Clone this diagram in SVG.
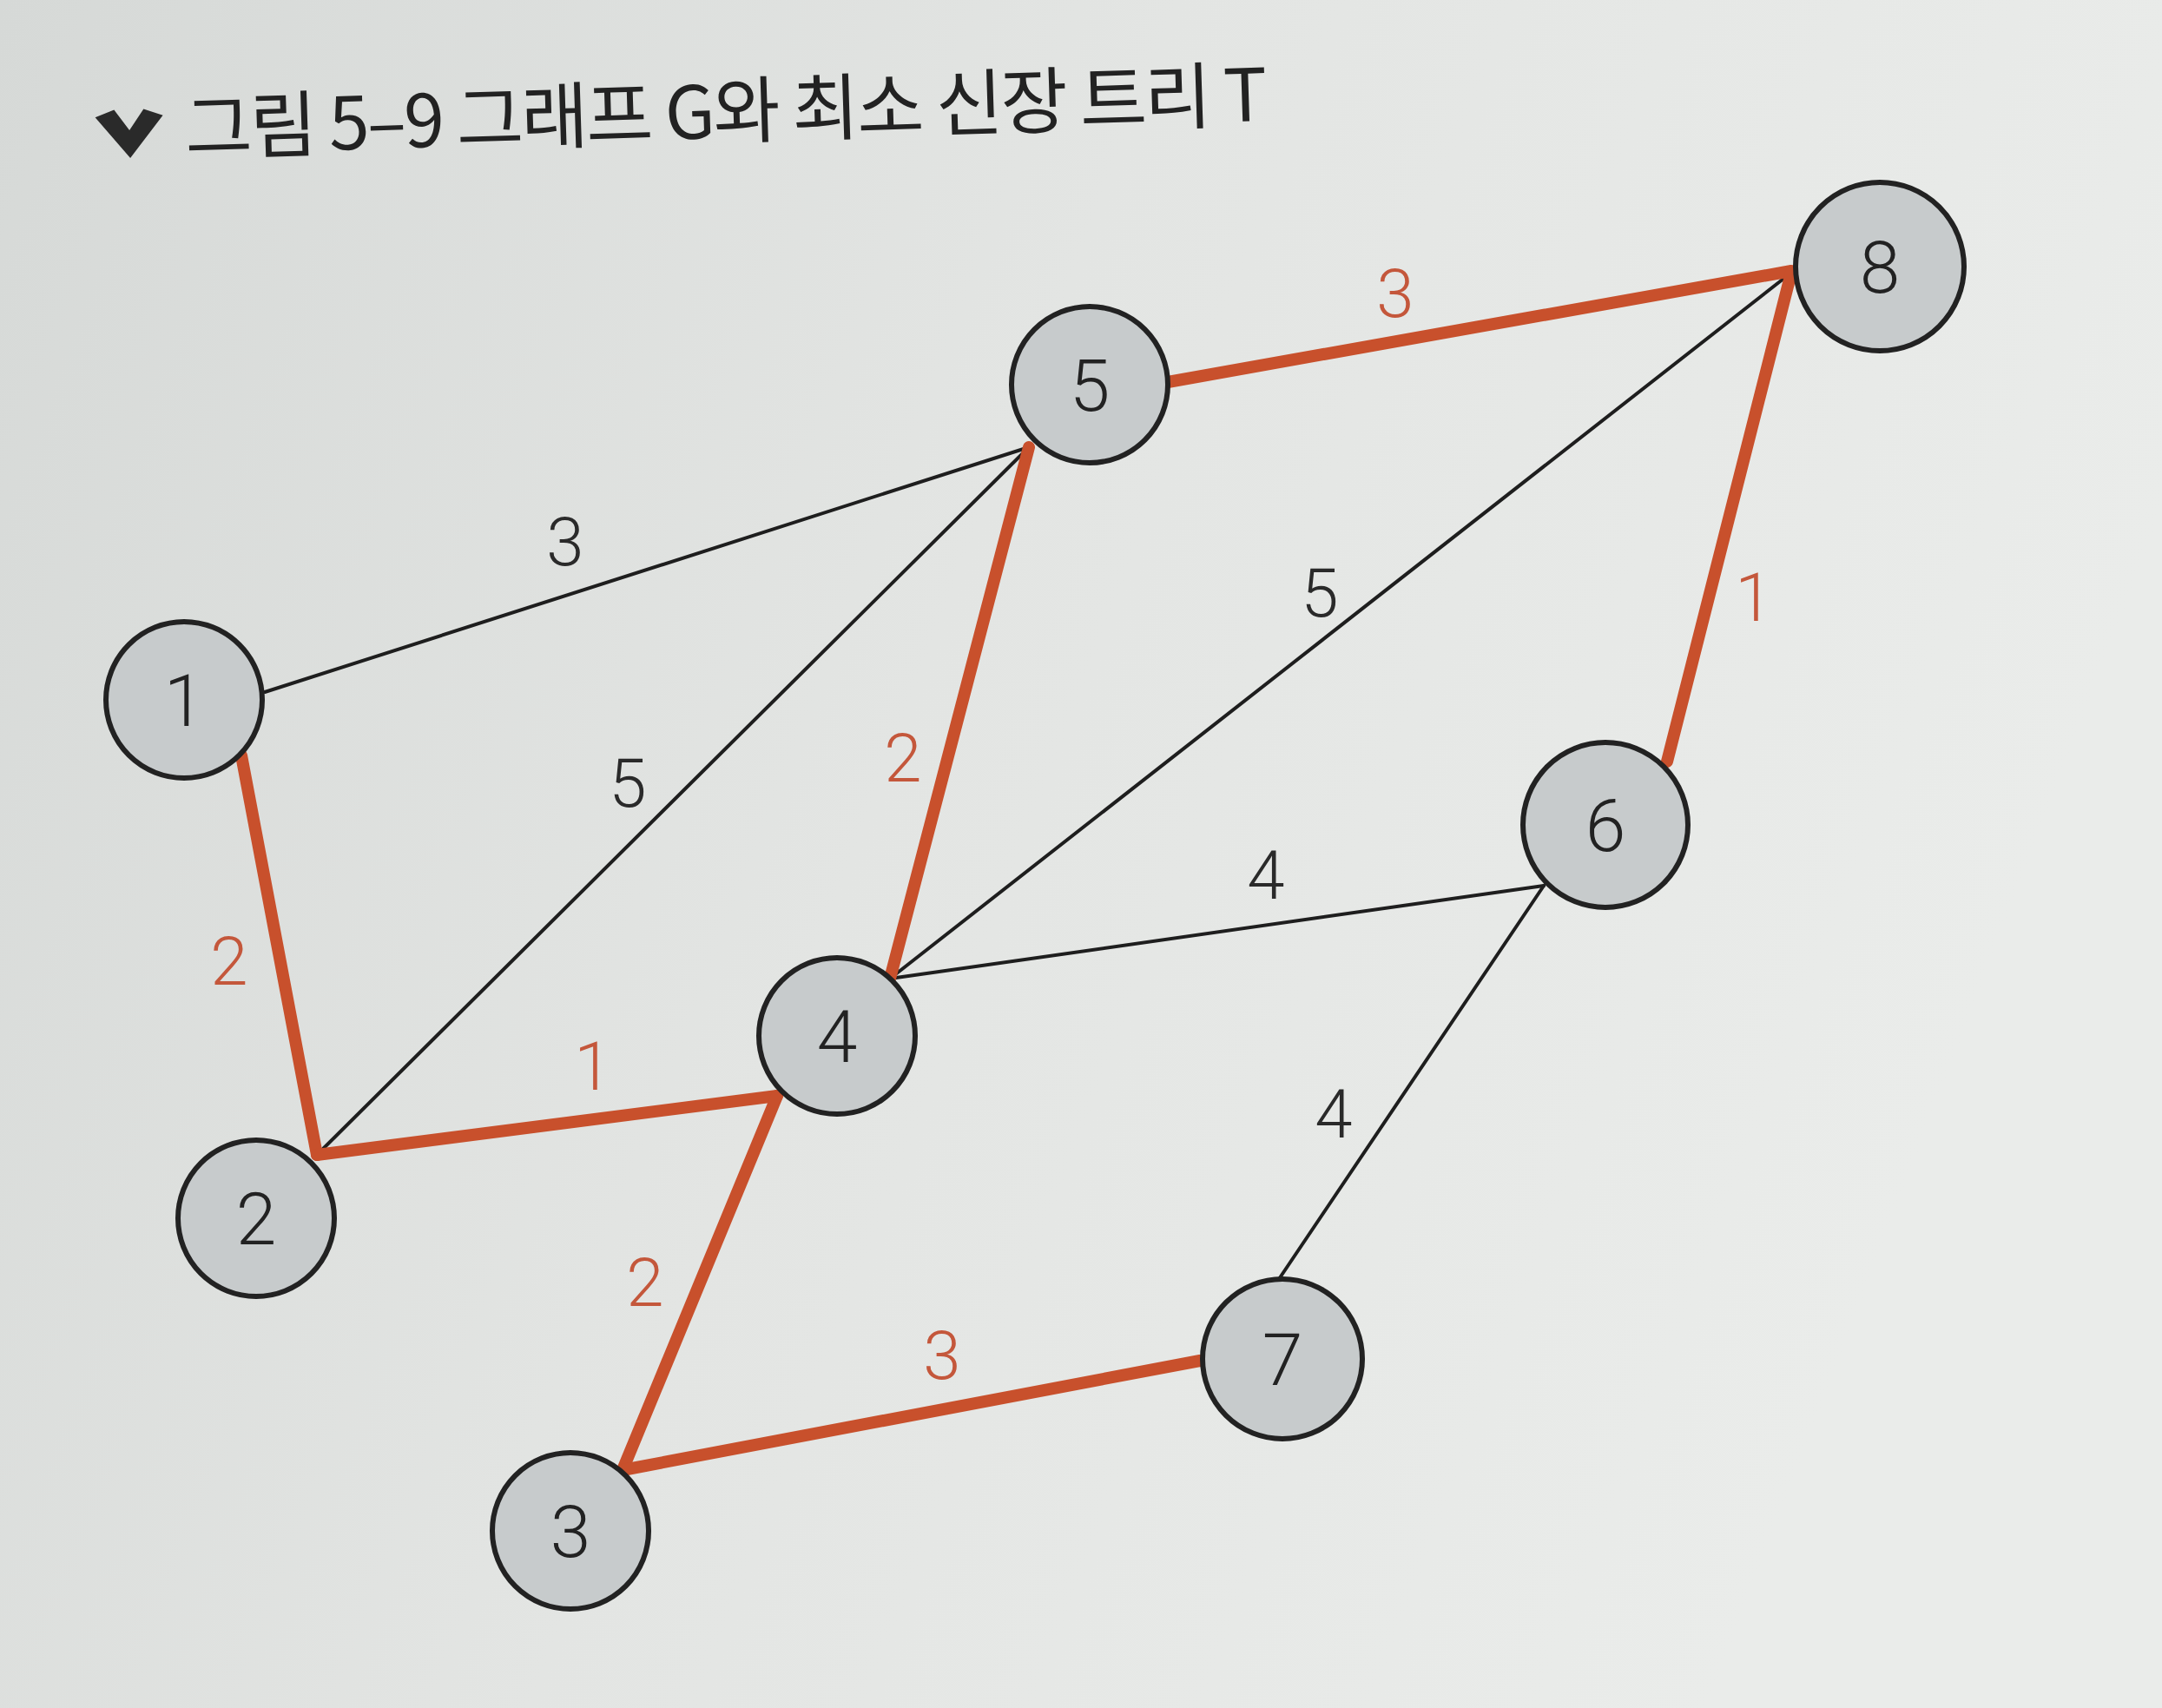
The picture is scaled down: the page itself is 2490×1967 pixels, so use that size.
<svg xmlns="http://www.w3.org/2000/svg" width="2490" height="1967" viewBox="0 0 2490 1967">
<defs>
<linearGradient id="bg" x1="0" y1="0" x2="1" y2="0.3">
<stop offset="0" stop-color="#d6d9d7"/>
<stop offset="0.5" stop-color="#e3e5e3"/>
<stop offset="1" stop-color="#eaecea"/>
</linearGradient>
<style>
.node circle{fill:#c7cbcc;stroke:#222;stroke-width:6}
.node text{font-family:Roboto,"Liberation Sans",sans-serif;font-weight:300;font-size:84px;fill:#222;text-anchor:middle}
.mst{stroke:#c8502c;stroke-width:14;stroke-linecap:round;fill:none}
.ed{stroke:#1e1e1e;stroke-width:4;stroke-linecap:round;fill:none}
.lbl{font-family:Roboto,"Liberation Sans",sans-serif;font-weight:300;font-size:78px;text-anchor:middle}
.lr{fill:#c4573b}
.lb{fill:#2a2a2a}
.title{font-family:"Noto Sans CJK KR","Noto Sans",sans-serif;font-size:84px;fill:#222}
</style>
</defs>
<rect x="0" y="0" width="2490" height="1967" fill="url(#bg)"/>
<g id="title" transform="rotate(-1.8 214 178)">
<path d="M111,132 L133,124 L150,148 L167,124 L189,132 L150,180 Z" fill="#2a2a2a"/>
<text class="title" x="214" y="178" textLength="1247" lengthAdjust="spacing">그림 5–9  그래프 G와 최소 신장 트리 T</text>
</g>
<g id="edges">
<line class="ed" x1="305" y1="797" x2="1185" y2="515"/>
<line class="ed" x1="365" y1="1330" x2="1185" y2="515"/>
<line class="ed" x1="1025" y1="1127" x2="2063" y2="314"/>
<line class="ed" x1="1025" y1="1127" x2="1778" y2="1020"/>
<line class="ed" x1="1778" y1="1020" x2="1473" y2="1473"/>
<line class="mst" x1="278" y1="870" x2="365" y2="1330"/>
<line class="mst" x1="365" y1="1330" x2="895" y2="1262"/>
<line class="mst" x1="1025" y1="1127" x2="1185" y2="515"/>
<line class="mst" x1="895" y1="1262" x2="717" y2="1693"/>
<line class="mst" x1="1345" y1="440" x2="2063" y2="312"/>
<line class="mst" x1="2063" y1="314" x2="1920" y2="877"/>
<line class="mst" x1="717" y1="1693" x2="1382" y2="1567"/>
</g>
<g id="edge-labels">
<text class="lbl lb" x="651" y="651">3</text>
<text class="lbl lr" x="264" y="1134">2</text>
<text class="lbl lb" x="723" y="929">5</text>
<text class="lbl lr" x="683" y="1255">1</text>
<text class="lbl lr" x="1040" y="900">2</text>
<text class="lbl lb" x="1520" y="710">5</text>
<text class="lbl lb" x="1458" y="1035">4</text>
<text class="lbl lr" x="743" y="1504">2</text>
<text class="lbl lr" x="1607" y="365">3</text>
<text class="lbl lr" x="2020" y="715">1</text>
<text class="lbl lb" x="1536" y="1310">4</text>
<text class="lbl lr" x="1085" y="1588">3</text>
</g>
<g id="node1" class="node"><circle cx="212" cy="806" r="90"/><text x="212" y="836">1</text></g>
<g id="node2" class="node"><circle cx="295" cy="1403" r="90"/><text x="295" y="1433">2</text></g>
<g id="node3" class="node"><circle cx="657" cy="1763" r="90"/><text x="657" y="1793">3</text></g>
<g id="node4" class="node"><circle cx="964" cy="1193" r="90"/><text x="964" y="1223">4</text></g>
<g id="node5" class="node"><circle cx="1255" cy="443" r="90"/><text x="1255" y="473">5</text></g>
<g id="node6" class="node"><circle cx="1849" cy="950" r="95"/><text x="1849" y="980">6</text></g>
<g id="node7" class="node"><circle cx="1477" cy="1565" r="92"/><text x="1477" y="1595">7</text></g>
<g id="node8" class="node"><circle cx="2165" cy="307" r="97"/><text x="2165" y="337">8</text></g>
</svg>
